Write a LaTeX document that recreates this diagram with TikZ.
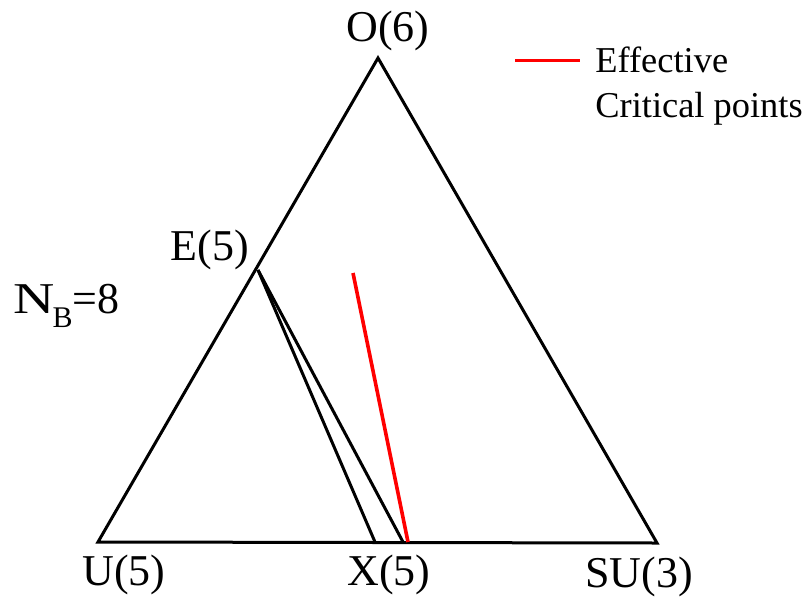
\documentclass[tikz,border=0pt]{standalone}
\usepackage{fontspec}
\setmainfont{Liberation Serif}
\usetikzlibrary{positioning}
\definecolor{crit}{HTML}{FF0000}
\tikzset{
  edge/.style={line width=1.5pt, draw=black, line join=miter},
  critline/.style={line width=1.8pt, draw=crit},
  vlabel/.style={anchor=base, inner sep=0pt, font=\fontsize{22}{26}\selectfont},
  legtext/.style={anchor=base west, inner sep=0pt, font=\fontsize{18.2}{22}\selectfont},
}
\newcommand{\lowsub}[1]{\raisebox{-7pt}{\fontsize{15}{17}\selectfont #1}}
\begin{document}
\begin{tikzpicture}[x=0.5pt, y=-0.5pt]
  \useasboundingbox (0,0) rectangle (812,599);
  % corners of the triangle
  \coordinate (O) at (378,58);
  \coordinate (U) at (98,542);
  \coordinate (SU) at (657,543);
  \coordinate (E) at (258,270);
  \coordinate (X1) at (375,542);
  \coordinate (X2) at (403,542);
  \coordinate (R1) at (353,273);
  \coordinate (R2) at (408,542);

  \draw[edge] (U) -- (O) -- (SU) -- cycle;
  \draw[edge] (E) -- (X1);
  \draw[edge] (E) -- (X2);
  \draw[critline] (R1) -- (R2);

  % labels
  \node[vlabel] (lO) at (388,42) {O(6)};
  \node[vlabel] (lE) at (210,260) {E(5)};
  \node[vlabel] (lU) at (124,585) {U(5)};
  \node[vlabel] (lX) at (389,585) {X(5)};
  \node[vlabel] (lSU) at (639,587) {SU(3)};
  \node[vlabel, anchor=base west] (lNB) at (13,313)
    {\scalebox{1.3}[1]{N}\kern-1pt\lowsub{B}=8};

  % legend
  \coordinate (leg1) at (515,61);
  \coordinate (leg2) at (580,61);
  \draw[critline, line width=1.5pt] (leg1) -- (leg2);
  \node[legtext] (eff) at (595,73) {Effective};
  \node[legtext] (cp) at (595,118) {Critical points};
\end{tikzpicture}
\end{document}
